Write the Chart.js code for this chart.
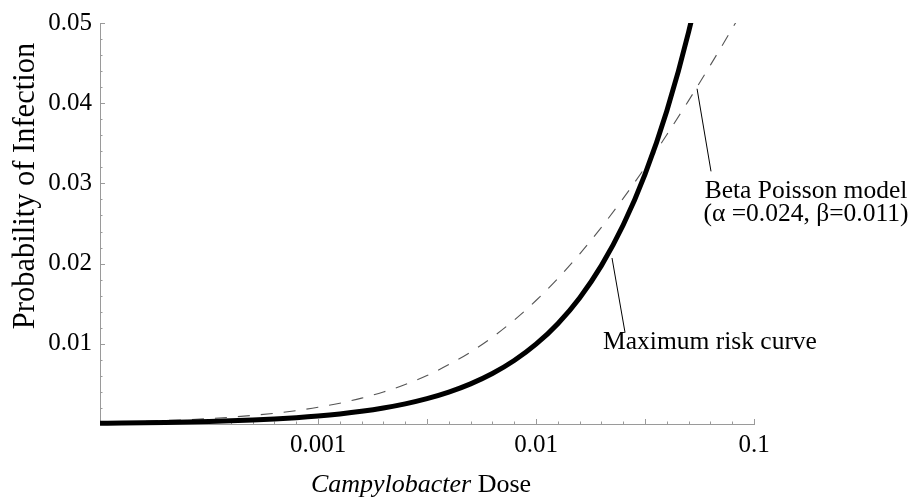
<!DOCTYPE html>
<html>
<head>
<meta charset="utf-8">
<script src="https://cdn.jsdelivr.net/npm/chart.js@4.4.1/dist/chart.umd.min.js"></script>
<style>
  html, body { margin: 0; padding: 0; background: #fff; }
  #wrap { width: 911px; height: 498px; }
</style>
</head>
<body>
<div id="wrap"><canvas id="grafico" width="911" height="498"></canvas></div>
<script>
// dose values, one every 0.1 decade
const doses = [0.0001, 0.0001259, 0.0001585, 0.0001995, 0.0002512, 0.0003162, 0.0003981, 0.0005012, 0.000631, 0.0007943,
  0.001, 0.001259, 0.001585, 0.001995, 0.002512, 0.003162, 0.003981, 0.005012, 0.00631, 0.007943,
  0.01, 0.01259, 0.01585, 0.01995, 0.02512, 0.03162, 0.03981, 0.05012, 0.0631, 0.07943, 0.1];

// thick solid curve
const maxRisk = [0.0001, 0.0001259, 0.0001585, 0.0001995, 0.0002512, 0.0003162, 0.0003981, 0.0005011, 0.0006308, 0.000794,
  0.0009995, 0.001258, 0.001584, 0.001993, 0.002509, 0.003157, 0.003973, 0.005, 0.00629, 0.007912,
  0.00995, 0.01251, 0.01572, 0.01975, 0.02481, 0.03113, 0.03903, 0.04888, 0.06115, 0.07636, 0.09516];

// thin dashed curve
const betaPoisson = [0.000217, 0.000273, 0.000343, 0.000431, 0.000542, 0.00068, 0.000853, 0.001069, 0.001338, 0.001672,
  0.002086, 0.002597, 0.003225, 0.003992, 0.004918, 0.006045, 0.00741, 0.00897, 0.01082, 0.01296,
  0.0154, 0.01814, 0.02119, 0.02452, 0.02813, 0.03198, 0.03606, 0.04032, 0.04475, 0.0493, 0.05397];

const xTicks = [0.001, 0.01, 0.1];
const xTickLabels = ['0.001', '0.01', '0.1'];
const yTicks = [0.01, 0.02, 0.03, 0.04, 0.05];
const yTickLabels = ['0.01', '0.02', '0.03', '0.04', '0.05'];

const fonte = '"Liberation Serif", "Times New Roman", serif';
const corEixo = '#9a9a9a';

// ticks pequenos para dentro do grafico
const ticksPlugin = {
  id: 'ticksDentro',
  beforeDatasetsDraw(chart) {
    const ctx = chart.ctx;
    const x = chart.scales.x, y = chart.scales.y;
    const area = chart.chartArea;
    ctx.save();
    ctx.strokeStyle = corEixo;
    ctx.lineWidth = 1;
    ctx.beginPath();
    for (let k = 1; k <= 30; k++) {
      const v = Math.pow(10, -4 + k / 10);
      const px = Math.round(x.getPixelForValue(v)) + 0.5;
      const len = (k % 5 === 0) ? 5 : 2.5;
      ctx.moveTo(px, area.bottom);
      ctx.lineTo(px, area.bottom - len);
    }
    for (let k = 1; k <= 25; k++) {
      const py = Math.round(y.getPixelForValue(k * 0.002)) + 0.5;
      const len = (k % 5 === 0) ? 5 : 2.5;
      ctx.moveTo(area.left, py);
      ctx.lineTo(area.left + len, py);
    }
    ctx.stroke();
    ctx.restore();
  },
  afterDatasetsDraw(chart) {
    const ctx = chart.ctx;
    const x = chart.scales.x, y = chart.scales.y;
    ctx.save();
    // linhas de chamada
    ctx.strokeStyle = '#000';
    ctx.lineWidth = 1;
    ctx.beginPath();
    ctx.moveTo(x.getPixelForValue(0.0548), y.getPixelForValue(0.0418));
    ctx.lineTo(x.getPixelForValue(0.0635), y.getPixelForValue(0.0315));
    ctx.moveTo(x.getPixelForValue(0.02232), y.getPixelForValue(0.0207));
    ctx.lineTo(x.getPixelForValue(0.02561), y.getPixelForValue(0.0114));
    ctx.stroke();

    ctx.fillStyle = '#000';
    ctx.font = '25.5px ' + fonte;
    ctx.textAlign = 'center';
    ctx.textBaseline = 'alphabetic';
    ctx.fillText('Beta Poisson model', 806, 198);
    ctx.fillText('(\u03B1 =0.024, \u03B2=0.011)', 806, 221);
    ctx.fillText('Maximum risk curve', 710, 349);

    // titulo do eixo x, com Campylobacter em italico
    ctx.font = 'italic 26px ' + fonte;
    const w1 = ctx.measureText('Campylobacter').width;
    ctx.font = '26px ' + fonte;
    const w2 = ctx.measureText(' Dose').width;
    const x0 = 421 - (w1 + w2) / 2;
    ctx.textAlign = 'left';
    ctx.font = 'italic 26px ' + fonte;
    ctx.fillText('Campylobacter', x0, 492);
    ctx.font = '26px ' + fonte;
    ctx.fillText(' Dose', x0 + w1, 492);

    // titulo do eixo y
    ctx.translate(26, 186);
    ctx.rotate(-Math.PI / 2);
    ctx.textAlign = 'center';
    ctx.textBaseline = 'middle';
    ctx.font = '30.5px ' + fonte;
    ctx.fillText('Probability of Infection', 0, 0);
    ctx.restore();
  }
};

const ctx = document.getElementById('grafico').getContext('2d');
new Chart(ctx, {
  type: 'line',
  data: {
    datasets: [
      {
        label: 'Maximum risk curve',
        data: doses.map((d, i) => ({ x: d, y: maxRisk[i] })),
        borderColor: '#000',
        borderWidth: 5,
        pointRadius: 0,
        cubicInterpolationMode: 'monotone',
        clip: { left: 0, top: 0, right: 0, bottom: 5 }
      },
      {
        label: 'Beta Poisson model',
        data: doses.map((d, i) => ({ x: d, y: betaPoisson[i] })),
        borderColor: '#555',
        borderWidth: 1.1,
        borderDash: [12, 11],
        pointRadius: 0,
        cubicInterpolationMode: 'monotone',
        clip: 0
      }
    ]
  },
  options: {
    responsive: false,
    animation: false,
    layout: { padding: { top: 21, right: 157, left: 0, bottom: 0 } },
    plugins: {
      legend: { display: false },
      tooltip: { enabled: false }
    },
    scales: {
      x: {
        type: 'logarithmic',
        min: 0.0001,
        max: 0.1,
        afterBuildTicks: s => { s.ticks = xTicks.map(v => ({ value: v })); },
        afterFit: s => { s.height = 74; },
        grid: { display: false, drawTicks: false },
        border: { display: true, color: corEixo, width: 1 },
        ticks: {
          autoSkip: false,
          maxRotation: 0,
          padding: 6,
          color: '#000',
          font: { family: fonte, size: 25 },
          callback: (v) => {
            const i = xTicks.findIndex(t => Math.abs(t - v) / t < 1e-6);
            return i >= 0 ? xTickLabels[i] : '';
          }
        }
      },
      y: {
        min: 0,
        max: 0.05,
        afterBuildTicks: s => { s.ticks = yTicks.map(v => ({ value: v })); },
        afterFit: s => { s.width = 100; },
        grid: { display: false, drawTicks: false },
        border: { display: true, color: corEixo, width: 1 },
        ticks: {
          padding: 8,
          color: '#000',
          font: { family: fonte, size: 25 },
          callback: (v) => {
            const i = yTicks.findIndex(t => Math.abs(t - v) < 1e-9);
            return i >= 0 ? yTickLabels[i] : '';
          }
        }
      }
    }
  },
  plugins: [ticksPlugin]
});
</script>
</body>
</html>
